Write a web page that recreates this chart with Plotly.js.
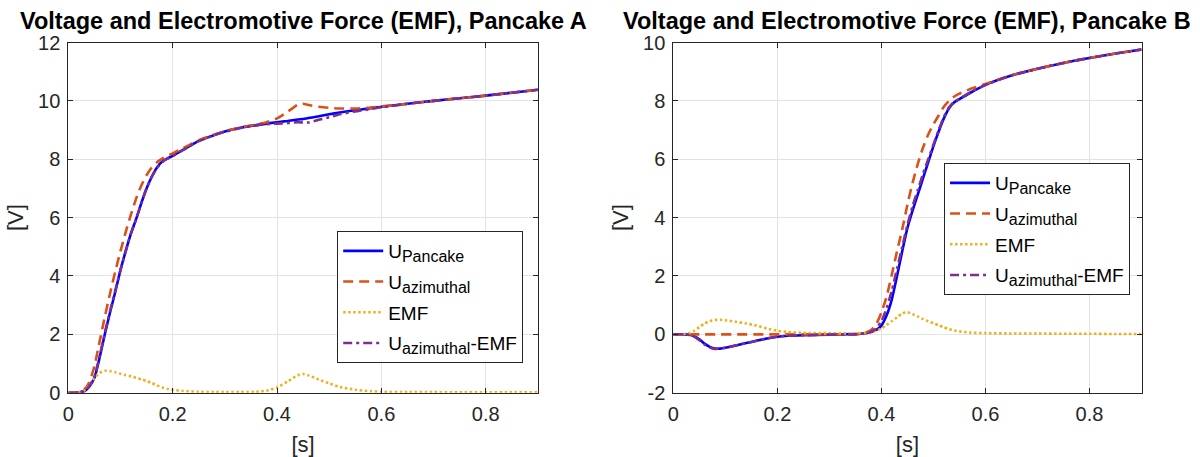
<!DOCTYPE html>
<html>
<head>
<meta charset="utf-8">
<script src="https://cdn.plot.ly/plotly-3.0.1.min.js"></script>
<style>
html,body{margin:0;padding:0;background:#fff;}
#chart{width:1200px;height:457px;}
</style>
</head>
<body>
<div id="chart"></div>
<script>
// ---------- data: Pancake A ----------
const timeA = [0,0.01,0.02,0.03,0.04,0.05,0.06,0.07,0.08,0.09,0.10,0.11,0.12,0.13,0.14,0.15,0.16,0.17,0.18,0.19,0.20,0.22,0.25,0.28,0.30,0.33,0.36,0.38,0.40,0.42,0.44,0.45,0.46,0.48,0.50,0.52,0.55,0.58,0.60,0.65,0.70,0.75,0.80,0.85,0.90];
const uPancakeA = [0,0,0.01,0.05,0.2,0.5,1.2,2.0,2.75,3.45,4.2,4.85,5.45,5.95,6.5,7.0,7.4,7.72,7.92,8.03,8.12,8.32,8.63,8.83,8.95,9.08,9.17,9.22,9.27,9.31,9.36,9.38,9.41,9.47,9.54,9.60,9.68,9.75,9.80,9.90,10.0,10.09,10.18,10.28,10.38];
const uAzimuthalA = [0,0,0.02,0.1,0.35,0.9,1.75,2.6,3.4,4.15,4.85,5.5,6.1,6.65,7.1,7.45,7.72,7.9,8.02,8.12,8.2,8.38,8.65,8.85,8.96,9.09,9.19,9.27,9.40,9.62,9.87,9.90,9.86,9.80,9.76,9.74,9.74,9.77,9.81,9.90,10.0,10.09,10.18,10.28,10.38];
const emfA = [0,0,0.01,0.06,0.25,0.5,0.68,0.75,0.74,0.7,0.65,0.6,0.56,0.51,0.46,0.4,0.33,0.25,0.18,0.13,0.1,0.06,0.03,0.02,0.02,0.02,0.03,0.07,0.18,0.38,0.6,0.64,0.6,0.45,0.32,0.2,0.1,0.05,0.03,0.02,0.02,0.01,0.01,0.01,0.01];
const uAzMinusEmfA = [0,0,0.01,0.05,0.22,0.55,1.25,2.05,2.8,3.5,4.2,4.85,5.45,5.95,6.5,7.0,7.4,7.7,7.9,8.02,8.11,8.32,8.62,8.83,8.94,9.07,9.16,9.2,9.22,9.24,9.27,9.26,9.26,9.35,9.44,9.54,9.64,9.72,9.78,9.90,10.0,10.09,10.18,10.28,10.38];

// ---------- data: Pancake B ----------
const timeB = [0,0.02,0.03,0.04,0.05,0.06,0.07,0.08,0.09,0.10,0.12,0.14,0.16,0.18,0.20,0.22,0.25,0.30,0.35,0.36,0.37,0.38,0.39,0.40,0.41,0.42,0.43,0.44,0.45,0.46,0.47,0.48,0.49,0.50,0.51,0.52,0.53,0.54,0.55,0.57,0.60,0.65,0.70,0.75,0.80,0.85,0.90];
const uPancakeB = [0,0,-0.01,-0.06,-0.17,-0.32,-0.43,-0.49,-0.49,-0.46,-0.38,-0.30,-0.22,-0.14,-0.08,-0.05,-0.03,-0.01,0.01,0.02,0.04,0.08,0.15,0.3,0.65,1.2,2.0,2.85,3.65,4.25,4.8,5.35,5.9,6.45,6.95,7.4,7.75,7.95,8.06,8.27,8.55,8.87,9.1,9.3,9.47,9.62,9.76];
const uAzimuthalB = [0,0,0,0,0,0,0,0,0,0,0,0,0,0,0,0,0,0,0,0.02,0.06,0.15,0.35,0.75,1.3,2.05,2.85,3.6,4.45,5.2,5.85,6.4,6.85,7.2,7.5,7.8,8.0,8.15,8.25,8.4,8.58,8.88,9.1,9.3,9.47,9.62,9.76];
const emfB = [0,0.01,0.04,0.12,0.25,0.37,0.45,0.49,0.5,0.48,0.43,0.37,0.3,0.2,0.12,0.08,0.05,0.04,0.03,0.04,0.05,0.08,0.13,0.2,0.32,0.45,0.58,0.72,0.76,0.69,0.61,0.52,0.45,0.38,0.31,0.24,0.18,0.13,0.1,0.06,0.04,0.03,0.03,0.02,0.02,0.01,0.01];
const uAzMinusEmfB = [0,0,-0.02,-0.08,-0.2,-0.35,-0.45,-0.5,-0.49,-0.46,-0.38,-0.30,-0.22,-0.14,-0.08,-0.05,-0.03,-0.01,0,0.02,0.04,0.09,0.2,0.45,0.9,1.5,2.25,3.0,3.75,4.4,4.95,5.5,6.0,6.5,7.0,7.45,7.78,7.97,8.07,8.28,8.55,8.87,9.1,9.3,9.47,9.62,9.76];

// ---------- labels ----------
const seriesNames = [
  'U<sub><span style="font-size:16px">Pancake</span></sub>',
  'U<sub><span style="font-size:16px">azimuthal</span></sub>',
  'EMF',
  'U<sub><span style="font-size:16px">azimuthal</span></sub>-EMF'
];
const titles = ['Voltage and Electromotive Force (EMF), Pancake A','Voltage and Electromotive Force (EMF), Pancake B'];
const xTickVals = [0,0.2,0.4,0.6,0.8];
const xTickText = ['0','0.2','0.4','0.6','0.8'];
const yTickValsA = [0,2,4,6,8,10,12];
const yTickTextA = ['0','2','4','6','8','10','12'];
const yTickValsB = [-2,0,2,4,6,8,10];
const yTickTextB = ['-2','0','2','4','6','8','10'];
const xTitle = '[s]';
const yTitle = '[V]';

const FONT = 'Liberation Sans, Arial, Helvetica, sans-serif';
const styles = [
  {color:'#0000FF', dash:'solid'},
  {color:'#D95319', dash:'10px,6px'},
  {color:'#EDB120', dash:'2.5px,2.5px'},
  {color:'#7E2F8E', dash:'9px,4px,3px,4px'}
];

function makeTraces(t, arrs, xa, ya, leg, grp){
  return arrs.map((y,i)=>({
    x:t, y:y, xaxis:xa, yaxis:ya, legend:leg, legendgroup:grp+i,
    type:'scatter', mode:'lines', name:seriesNames[i],
    line:{color:styles[i].color, dash:styles[i].dash, width:2.6, shape:'spline', smoothing:0.6},
    hoverinfo:'skip'
  }));
}

const data = [
  ...makeTraces(timeA,[uPancakeA,uAzimuthalA,emfA,uAzMinusEmfA],'x','y','legend','a'),
  ...makeTraces(timeB,[uPancakeB,uAzimuthalB,emfB,uAzMinusEmfB],'x2','y2','legend2','b')
];

const axCommon = {
  showline:true, linecolor:'#262626', linewidth:1, mirror:'ticks',
  ticks:'inside', ticklen:5, tickcolor:'#262626', tickwidth:1,
  showgrid:true, gridcolor:'#e3e3e3', gridwidth:1, zeroline:false,
  tickfont:{family:FONT, size:20, color:'#262626'},
  automargin:false
};

const xDomA=[0.0569,0.4483], xDomB=[0.5611,0.9513], yDom=[0.1407,0.907];

function xAxis(dom, anchor){
  return Object.assign({}, axCommon, {
    domain:dom, anchor:anchor, range:[0,0.9], tickmode:'array', tickvals:xTickVals, ticktext:xTickText,
    ticklabelstandoff:3,
    title:{text:xTitle, font:{family:FONT,size:22,color:'#262626'}, standoff:13}
  });
}
function yAxis(range, anchor, tv, tt){
  return Object.assign({}, axCommon, {
    domain:yDom, anchor:anchor, range:range, tickmode:'array', tickvals:tv, ticktext:tt,
    ticklabelstandoff:3,
    title:{text:yTitle, font:{family:FONT,size:22,color:'#262626'}, standoff:8}
  });
}

const legCommon = {
  xanchor:'left', yanchor:'top', bgcolor:'#ffffff', bordercolor:'#262626', borderwidth:1,
  font:{family:FONT, size:19, color:'#000'}, tracegroupgap:3, itemwidth:40
};

const layout = {
  width:1200, height:457,
  margin:{l:0,r:0,t:0,b:0},
  paper_bgcolor:'#fff', plot_bgcolor:'#fff',
  showlegend:true,
  xaxis:xAxis(xDomA,'y'),
  yaxis:yAxis([0,12],'x',yTickValsA,yTickTextA),
  xaxis2:xAxis(xDomB,'y2'),
  yaxis2:yAxis([-2,10],'x2',yTickValsB,yTickTextB),
  legend:Object.assign({}, legCommon, {x:0.281, y:0.4945}),
  legend2:Object.assign({}, legCommon, {x:0.7867, y:0.6433}),
  annotations:[
    {text:titles[0], xref:'paper', yref:'paper', x:(xDomA[0]+xDomA[1])/2, y:1-21/457, xanchor:'center', yanchor:'middle', showarrow:false,
     font:{family:FONT, size:23.5, weight:'bold', color:'#000'}},
    {text:titles[1], xref:'paper', yref:'paper', x:(xDomB[0]+xDomB[1])/2, y:1-21/457, xanchor:'center', yanchor:'middle', showarrow:false,
     font:{family:FONT, size:23.5, weight:'bold', color:'#000'}}
  ]
};

Plotly.newPlot('chart', data, layout, {displayModeBar:false, staticPlot:true});
</script>
</body>
</html>
